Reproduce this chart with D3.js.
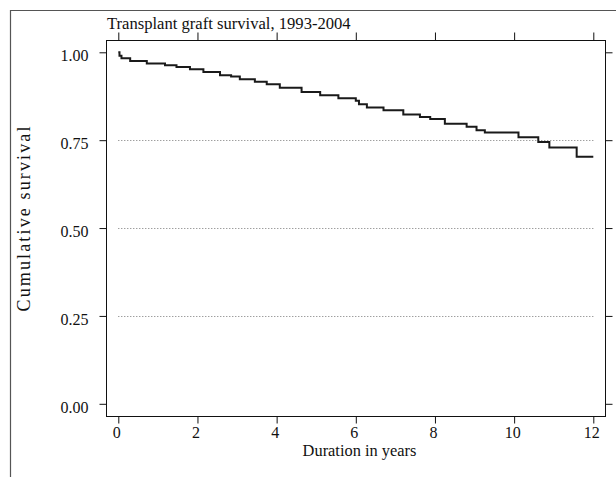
<!DOCTYPE html>
<html>
<head>
<meta charset="utf-8">
<script src="https://cdn.jsdelivr.net/npm/d3@7"></script>
<style>
  html, body { margin: 0; padding: 0; background: #fff; }
  svg { display: block; }
  text { font-family: "Liberation Serif", "Times New Roman", serif; fill: #111; }
</style>
</head>
<body>
<svg id="chart" width="616" height="477"></svg>
<script>
// Kaplan-Meier step data (time in years, cumulative survival)
const times    = [0, 0.03, 0.08, 0.30, 0.72, 1.18, 1.47, 1.81, 2.15, 2.57, 2.85, 3.07, 3.45, 3.75, 4.08, 4.63, 5.10, 5.56, 6.00, 6.08, 6.28, 6.70, 7.20, 7.62, 7.88, 8.25, 8.80, 9.05, 9.26, 10.11, 10.61, 10.89, 11.58, 12.0];
const survival = [1.000, 0.990, 0.983, 0.975, 0.968, 0.963, 0.958, 0.952, 0.944, 0.935, 0.931, 0.923, 0.916, 0.909, 0.899, 0.887, 0.878, 0.869, 0.862, 0.852, 0.843, 0.835, 0.823, 0.816, 0.810, 0.797, 0.788, 0.778, 0.772, 0.758, 0.745, 0.729, 0.703, 0.703];
const xTicks = [0, 2, 4, 6, 8, 10, 12];
const yTicks = [0, 0.25, 0.5, 0.75, 1];
const gridValues = [0.25, 0.5, 0.75];
const titleText = "Transplant graft survival, 1993-2004";
const xLabel = "Duration in years";
const yLabel = "Cumulative survival";

const svg = d3.select("#chart");
const box = { left: 106.5, top: 40.5, right: 605.5, bottom: 416.5 };

const x = d3.scaleLinear().domain([0, 12]).range([118.3, 593.3]);
const y = d3.scaleLinear().domain([0, 1]).range([403.8, 52.3]);

// outer frame
svg.append("path")
  .attr("d", "M10.5,477 L10.5,10.5 L616,10.5")
  .attr("fill", "none").attr("stroke", "#555").attr("stroke-width", 1.2);

// grid lines
svg.append("g").selectAll("line").data(gridValues).join("line")
  .attr("x1", x(0)).attr("x2", x(12))
  .attr("y1", d => Math.round(y(d)) + 0.5).attr("y2", d => Math.round(y(d)) + 0.5)
  .attr("stroke", "#777").attr("stroke-width", 1).attr("stroke-dasharray", "1,2");

// plot box
svg.append("rect")
  .attr("x", box.left).attr("y", box.top)
  .attr("width", box.right - box.left).attr("height", box.bottom - box.top)
  .attr("fill", "none").attr("stroke", "#111").attr("stroke-width", 1);

// left axis
const yAxisL = d3.axisLeft(y).tickValues(yTicks).tickFormat(d3.format(".2f")).tickSize(7).tickPadding(11);
const gL = svg.append("g").attr("transform", `translate(${box.left},0)`).call(yAxisL);
gL.select(".domain").remove();
gL.selectAll("text").attr("dy", "0.85em").attr("y", -5).style("font-size", "16px")
  .style("font-family", "'Liberation Serif', serif").attr("fill", "#111");
gL.selectAll("line").attr("stroke", "#111");

// right axis (ticks only)
const yAxisR = d3.axisRight(y).tickValues(yTicks).tickFormat("").tickSize(7);
const gR = svg.append("g").attr("transform", `translate(${box.right},0)`).call(yAxisR);
gR.select(".domain").remove();
gR.selectAll("line").attr("stroke", "#111");

// bottom axis
const xAxisB = d3.axisBottom(x).tickValues(xTicks).tickFormat(d3.format("d")).tickSize(7).tickPadding(3);
const gB = svg.append("g").attr("transform", `translate(0,${box.bottom})`).call(xAxisB);
gB.select(".domain").remove();
gB.selectAll("text").attr("x", -2).style("font-size", "16px")
  .style("font-family", "'Liberation Serif', serif").attr("fill", "#111");
gB.selectAll("line").attr("stroke", "#111");

// top axis (ticks only)
const xAxisT = d3.axisTop(x).tickValues(xTicks).tickFormat("").tickSize(8);
const gT = svg.append("g").attr("transform", `translate(0,${box.top})`).call(xAxisT);
gT.select(".domain").remove();
gT.selectAll("line").attr("stroke", "#111");

// survival step curve
const pts = times.map((t, i) => [t, survival[i]]);
const line = d3.line().x(d => x(d[0])).y(d => y(d[1])).curve(d3.curveStepAfter);
svg.append("path").datum(pts)
  .attr("d", line)
  .attr("fill", "none").attr("stroke", "#1a1a1a").attr("stroke-width", 2);

// title
svg.append("text").attr("x", 107).attr("y", 29)
  .style("font-size", "16.6px").text(titleText);

// x label
svg.append("text").attr("x", 359.5).attr("y", 456).attr("text-anchor", "middle")
  .style("font-size", "16.4px").text(xLabel);

// y label
svg.append("text").attr("transform", "translate(30,219) rotate(-90)")
  .attr("text-anchor", "middle")
  .attr("textLength", 185).attr("lengthAdjust", "spacing")
  .style("font-size", "18px").text(yLabel);
</script>
</body>
</html>
